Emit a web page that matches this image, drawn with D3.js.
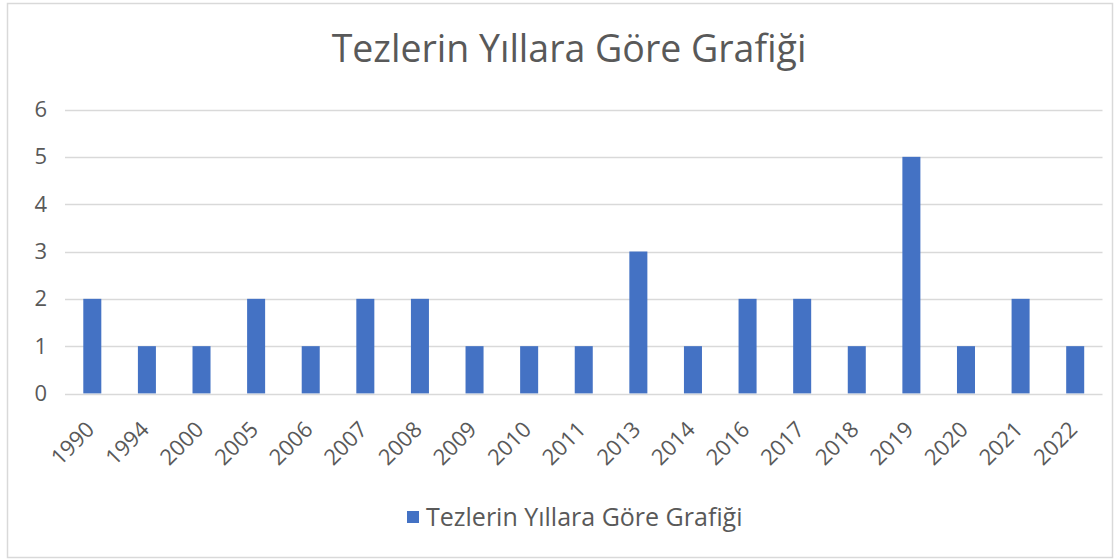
<!DOCTYPE html>
<html>
<head>
<meta charset="utf-8">
<script src="https://cdn.jsdelivr.net/npm/d3@7"></script>
<style>
  html, body { margin: 0; padding: 0; background: #fff; }
  svg { display: block; }
  text { font-family: "Open Sans", "Noto Sans", sans-serif; fill: #595959; }
</style>
</head>
<body>
<svg id="chart" width="1120" height="560"></svg>
<script>
const years = ["1990","1994","2000","2005","2006","2007","2008","2009","2010","2011",
               "2013","2014","2016","2017","2018","2019","2020","2021","2022"];
const counts = [2,1,1,2,1,2,2,1,1,1,3,1,2,2,1,5,1,2,1];
const yTicks = [0,1,2,3,4,5,6];
const titleText = "Tezlerin Yıllara Göre Grafiği";
const seriesName = "Tezlerin Yıllara Göre Grafiği";

const svg = d3.select("#chart");
const W = 1120, H = 560;
const margin = { left: 65, right: 17.5, top: 109.5, bottom: 166.5 };

// Chart frame
svg.append("rect")
  .attr("x", 7.5).attr("y", 3.5)
  .attr("width", 1105).attr("height", 554)
  .attr("fill", "#fff").attr("stroke", "#d9d9d9").attr("stroke-width", 1.5);

const x = d3.scaleBand()
  .domain(years)
  .range([margin.left, W - margin.right])
  .paddingInner(0.67).paddingOuter(0.335);

const y = d3.scaleLinear()
  .domain([0, 6])
  .range([H - margin.bottom, margin.top]);

// Horizontal gridlines
svg.append("g")
  .selectAll("line")
  .data(yTicks.filter(d => d > 0))
  .join("line")
  .attr("x1", margin.left).attr("x2", W - margin.right)
  .attr("y1", d => Math.round(y(d)) + 0.5).attr("y2", d => Math.round(y(d)) + 0.5)
  .attr("stroke", "#d9d9d9").attr("stroke-width", 1.5);

// Y axis labels
const yAxis = d3.axisLeft(y).tickValues(yTicks).tickFormat(d3.format("d")).tickSize(0).tickPadding(0);
const gy = svg.append("g").attr("transform", `translate(${47},0)`).call(yAxis);
gy.select(".domain").remove();
gy.selectAll("text")
  .attr("font-size", 22)
  .style("fill", "#595959");

// Bars
svg.append("g")
  .selectAll("rect")
  .data(years.map((yr, i) => ({ yr, v: counts[i] })))
  .join("rect")
  .attr("x", d => x(d.yr))
  .attr("width", x.bandwidth())
  .attr("y", d => y(d.v))
  .attr("height", d => y(0) - y(d.v))
  .attr("fill", "#4472c4");

// Baseline
svg.append("line")
  .attr("x1", margin.left).attr("x2", W - margin.right)
  .attr("y1", Math.round(y(0)) + 0.5).attr("y2", Math.round(y(0)) + 0.5)
  .attr("stroke", "#d9d9d9").attr("stroke-width", 1.5);

// X axis labels, rotated
const xAxis = d3.axisBottom(x).tickSize(0).tickPadding(0);
const gx = svg.append("g").attr("transform", `translate(0,${y(0)})`).call(xAxis);
gx.select(".domain").remove();
gx.selectAll("text")
  .attr("font-size", 22)
  .style("fill", "#595959")
  .attr("text-anchor", "end")
  .attr("dy", "0.35em")
  .attr("transform", "translate(-2,32) rotate(-45)");

// Title
svg.append("text")
  .attr("x", 569).attr("y", 62)
  .attr("text-anchor", "middle")
  .attr("font-size", 37.5)
  .style("fill", "#595959")
  .text(titleText);

// Legend
const lg = svg.append("g").attr("transform", "translate(407,511)");
lg.append("rect").attr("width", 12).attr("height", 12).attr("fill", "#4472c4");
lg.append("text")
  .attr("x", 19).attr("y", 6).attr("dy", "0.35em")
  .attr("font-size", 25)
  .style("fill", "#595959")
  .text(seriesName);
</script>
</body>
</html>
